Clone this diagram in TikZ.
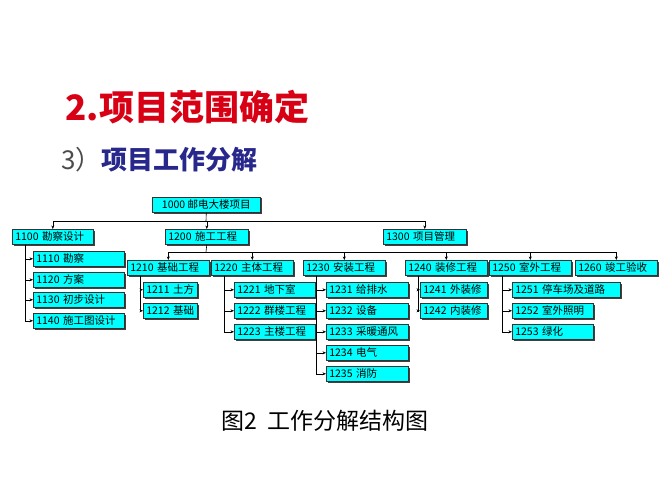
\documentclass[tikz,border=0pt]{standalone}
\usepackage{fontspec}
\newfontfamily\cjk{Noto Sans CJK SC}
\usetikzlibrary{shadows,calc,arrows.meta}
\definecolor{boxc}{RGB}{0,255,255}
\definecolor{titr}{RGB}{215,0,20}
\definecolor{navy}{RGB}{40,40,140}
\tikzset{
 bx/.style={draw=black!80,fill=boxc,line width=0.6pt,inner sep=0pt,minimum height=15pt,
   drop shadow={shadow xshift=1.2pt,shadow yshift=-1.2pt,fill=black!75,opacity=1},
   font=\cjk\fontsize{10.5}{11}\selectfont,align=left},
 arr/.style={line width=0.6pt,-{Stealth[length=3.5pt,width=3pt]}},
 ln/.style={line width=0.6pt}
}
\newcommand\wb[7]{\node[bx,anchor=north west,minimum width=#4pt-#2pt,text width=#4pt-#2pt-4pt] (#1) at (#2pt,-#3pt) {\hspace*{1pt}#7};}
\begin{document}
\begin{tikzpicture}[x=1pt,y=1pt]
\useasboundingbox (0,0) rectangle (667,-500);
\node[anchor=west,text=titr,font=\cjk\fontsize{35}{38}\selectfont\bfseries] (t1) at (62,-107) {\textit{2.}项目范围确定};
\node[anchor=west,font=\cjk\fontsize{26}{28}\selectfont] (t2) at (58,-160) {\color{black!70}3）\color{navy}\bfseries 项目工作分解};
\node[font=\cjk\fontsize{23}{25}\selectfont] (cap) at (325,-421) {图2\ \ 工作分解结构图};
\node[bx,anchor=north west,minimum width=108pt,align=center] (a) at (152pt,-197pt) {1000 邮电大楼项目};
\wb{b1}{12}{229}{93}{245}{}{1100 勘察设计}
\wb{b2}{165}{229}{248}{245}{}{1200 施工工程}
\wb{b3}{383}{229}{466}{245}{}{1300 项目管理}
\wb{c1}{127}{260}{209}{276}{}{1210 基础工程}
\wb{c2}{211}{260}{293}{276}{}{1220 主体工程}
\wb{c3}{303}{260}{385}{276}{}{1230 安装工程}
\wb{c4}{405}{260}{487}{276}{}{1240 装修工程}
\wb{c5}{489}{260}{571}{276}{}{1250 室外工程}
\wb{c6}{575}{260}{657}{276}{}{1260 竣工验收}
\wb{d1}{33}{251}{124}{266}{}{1110 勘察}
\wb{d2}{33}{272}{124}{287}{}{1120 方案}
\wb{d3}{33}{292}{124}{307}{}{1130 初步设计}
\wb{d4}{33}{313}{124}{328}{}{1140 施工图设计}
\wb{e1}{143}{282}{197}{297}{}{1211 土方}
\wb{e2}{143}{303}{197}{318}{}{1212 基础}
\wb{f1}{234}{282}{315}{297}{}{1221 地下室}
\wb{f2}{234}{303}{315}{318}{}{1222 群楼工程}
\wb{f3}{234}{324}{315}{339}{}{1223 主楼工程}
\wb{g1}{326}{282}{408}{297}{}{1231 给排水}
\wb{g2}{326}{303}{408}{318}{}{1232 设备}
\wb{g3}{326}{324}{408}{339}{}{1233 采暖通风}
\wb{g4}{326}{345}{408}{360}{}{1234 电气}
\wb{g5}{326}{366}{408}{381}{}{1235 消防}
\wb{h1}{420}{282}{487}{297}{}{1241 外装修}
\wb{h2}{420}{303}{487}{318}{}{1242 内装修}
\wb{k1}{512}{282}{620}{297}{}{1251 停车场及道路}
\wb{k2}{512}{303}{593}{318}{}{1252 室外照明}
\wb{k3}{512}{324}{593}{339}{}{1253 绿化}
\coordinate (bus1) at (206,-221);
\draw[ln] (a.south) -- (bus1);
\foreach \n in {b1,b2,b3} \draw[arr] (bus1) -| (\n.north);
\coordinate (bus2) at (206,-252);
\draw[ln] (b2.south) -- (bus2);
\foreach \n in {c1,c2,c3,c4,c5,c6} \draw[arr] (bus2) -| (\n.north);
\foreach \p/\cs in {b1/{d1,d2,d3,d4},c1/{e1,e2},c2/{f1,f2,f3},c3/{g1,g2,g3,g4,g5},c4/{h1,h2},c5/{k1,k2,k3}}
  \foreach \c in \cs \draw[arr] ($(\p.south west)+(13,0)$) |- (\c.west);
\end{tikzpicture}
\end{document}
